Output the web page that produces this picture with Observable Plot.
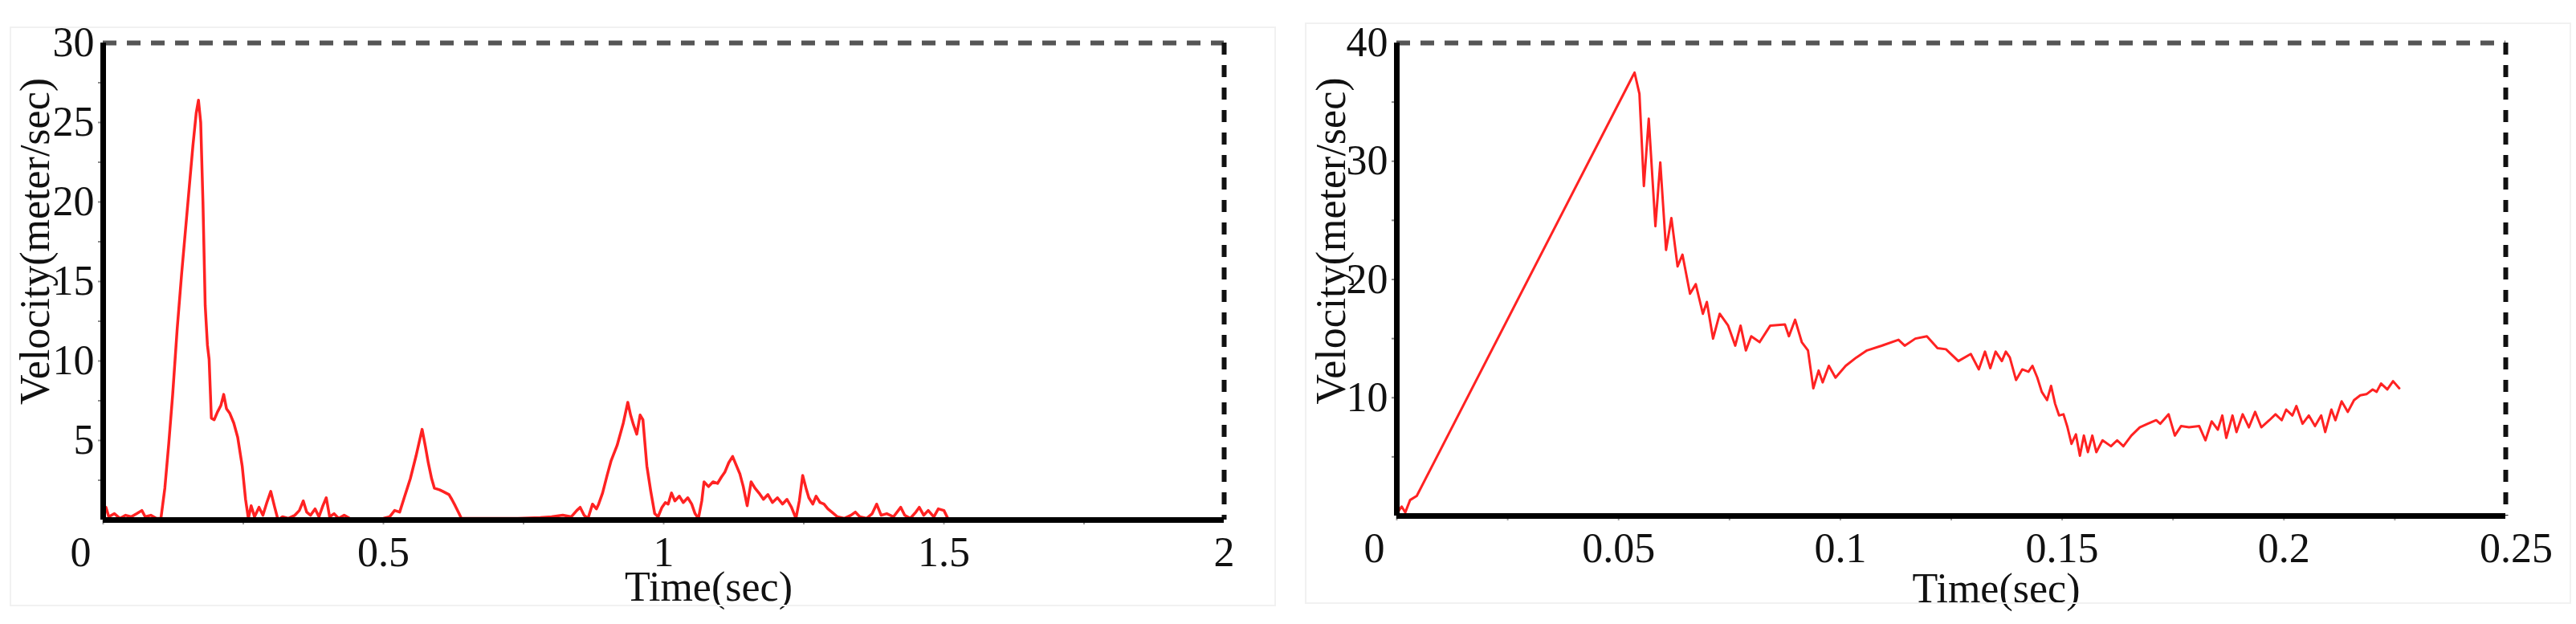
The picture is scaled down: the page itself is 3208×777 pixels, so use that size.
<!DOCTYPE html>
<html>
<head>
<meta charset="utf-8">
<script src="https://cdn.jsdelivr.net/npm/d3@7"></script>
<script src="https://cdn.jsdelivr.net/npm/@observablehq/plot@0.6"></script>
<style>
  html, body { margin: 0; padding: 0; background: #fff; }
  #wrap { position: relative; width: 3208px; height: 777px; display: flex; flex-direction: row; }
  .panel { width: 1604px; height: 777px; }
  .frame { position: absolute; border: 2px solid #f1f1f1; pointer-events: none; }
</style>
</head>
<body>
<div id="wrap">
  <div class="frame" style="left:12px; top:33px; width:1573px; height:718px;"></div>
  <div class="frame" style="left:1625px; top:28px; width:1573px; height:720px;"></div>
  <div class="panel" id="left"></div>
  <div class="panel" id="right"></div>
</div>
<script>
// ---------- Left chart: velocity over 0–2 s ----------
const leftTime = [
  0.000, 0.005, 0.010, 0.020, 0.030, 0.040, 0.050, 0.060, 0.069, 0.075, 0.085, 0.095, 0.103,
  0.110, 0.117, 0.124, 0.132, 0.140, 0.150, 0.160, 0.166, 0.170, 0.174, 0.178, 0.182, 0.186,
  0.189, 0.193, 0.198, 0.204, 0.210, 0.215, 0.220, 0.226, 0.233, 0.240, 0.248, 0.254, 0.259,
  0.264, 0.270, 0.278, 0.285, 0.292, 0.299, 0.306, 0.312, 0.320, 0.330, 0.342, 0.350, 0.357,
  0.363, 0.370, 0.378, 0.385, 0.392, 0.398, 0.404, 0.412, 0.420, 0.430, 0.440, 0.460, 0.480,
  0.500, 0.511, 0.520, 0.529, 0.538, 0.548, 0.558, 0.569, 0.575, 0.580, 0.586, 0.591, 0.600,
  0.606, 0.617, 0.622, 0.628, 0.635, 0.639, 0.660, 0.700, 0.740, 0.780, 0.800, 0.820, 0.835,
  0.845, 0.851, 0.858, 0.865, 0.873, 0.880, 0.884, 0.891, 0.899, 0.906, 0.917, 0.928, 0.936,
  0.941, 0.946, 0.952, 0.958, 0.963, 0.970, 0.977, 0.984, 0.990, 0.997, 1.003, 1.008, 1.014,
  1.020, 1.028, 1.035, 1.043, 1.050, 1.056, 1.062, 1.068, 1.072, 1.080, 1.088, 1.096, 1.103,
  1.109, 1.116, 1.123, 1.130, 1.136, 1.142, 1.149, 1.156, 1.163, 1.170, 1.178, 1.186, 1.194,
  1.203, 1.212, 1.220, 1.228, 1.236, 1.242, 1.248, 1.254, 1.259, 1.266, 1.272, 1.279, 1.286,
  1.293, 1.300, 1.310, 1.322, 1.334, 1.342, 1.350, 1.362, 1.372, 1.380, 1.388, 1.398, 1.410,
  1.423, 1.430, 1.440, 1.450, 1.456, 1.464, 1.472, 1.482, 1.490, 1.500, 1.507
];
const leftVelocity = [
  0.2, 0.8, 0.2, 0.4, 0.1, 0.3, 0.2, 0.4, 0.6, 0.2, 0.3, 0.1, 0.1,
  2.0, 4.8, 7.9, 12.0, 15.5, 19.5, 23.5, 25.6, 26.4, 25.0, 20.0, 13.5, 11.0,
  10.1, 6.4, 6.3, 6.8, 7.2, 7.9, 7.0, 6.7, 6.1, 5.2, 3.4, 1.3, 0.1,
  0.9, 0.2, 0.8, 0.3, 1.1, 1.8, 0.8, 0.0, 0.2, 0.1, 0.3, 0.6, 1.2,
  0.5, 0.3, 0.7, 0.2, 0.9, 1.4, 0.2, 0.4, 0.1, 0.3, 0.1, 0.05, 0.05,
  0.1, 0.2, 0.6, 0.5, 1.5, 2.6, 4.0, 5.7, 4.6, 3.6, 2.6, 2.0, 1.9,
  1.8, 1.6, 1.3, 0.9, 0.4, 0.1, 0.1, 0.1, 0.1, 0.15, 0.2, 0.3, 0.2,
  0.6, 0.8, 0.3, 0.1, 1.0, 0.7, 1.0, 1.7, 2.8, 3.7, 4.7, 6.1, 7.4,
  6.6, 6.0, 5.4, 6.6, 6.3, 3.4, 1.8, 0.4, 0.2, 0.8, 1.1, 1.0, 1.7,
  1.2, 1.5, 1.1, 1.4, 1.0, 0.4, 0.1, 1.2, 2.4, 2.1, 2.4, 2.3, 2.7,
  3.0, 3.6, 4.0, 3.4, 2.9, 2.1, 0.9, 2.4, 2.0, 1.7, 1.3, 1.6, 1.1,
  1.4, 1.0, 1.3, 0.8, 0.1, 1.2, 2.8, 2.0, 1.4, 1.0, 1.5, 1.1, 1.0,
  0.7, 0.5, 0.2, 0.1, 0.3, 0.5, 0.2, 0.1, 0.4, 1.0, 0.3, 0.4, 0.2,
  0.8, 0.3, 0.1, 0.5, 0.8, 0.3, 0.6, 0.2, 0.7, 0.6, 0.1
];
const leftXTicks = [0.5, 1, 1.5, 2];
const leftXZeroTick = [0];
const leftYTicks = [5, 10, 15, 20, 25, 30];
const leftYMinor = [2.5, 5, 7.5, 10, 12.5, 15, 17.5, 20, 22.5, 25, 27.5];
const leftXMinor = [0, 0.25, 0.5, 0.75, 1, 1.25, 1.5, 1.75];

// ---------- Right chart: velocity over 0–0.25 s ----------
const rightTime = [
  0.0000, 0.0011, 0.0019, 0.0030, 0.0045, 0.0536, 0.0547, 0.0557, 0.0568, 0.0583, 0.0594,
  0.0607, 0.0619, 0.0633, 0.0644, 0.0661, 0.0674, 0.0690, 0.0699, 0.0713, 0.0728, 0.0747,
  0.0763, 0.0775, 0.0787, 0.0799, 0.0818, 0.0842, 0.0875, 0.0884, 0.0898, 0.0913, 0.0927,
  0.0939, 0.0951, 0.0960, 0.0974, 0.0989, 0.1012, 0.1036, 0.1060, 0.1093, 0.1131, 0.1145,
  0.1169, 0.1195, 0.1219, 0.1238, 0.1266, 0.1294, 0.1312, 0.1326, 0.1338, 0.1350, 0.1364,
  0.1373, 0.1382, 0.1396, 0.1410, 0.1424, 0.1433, 0.1444, 0.1454, 0.1466, 0.1475, 0.1484,
  0.1493, 0.1503, 0.1512, 0.1521, 0.1531, 0.1540, 0.1549, 0.1558, 0.1568, 0.1577, 0.1591,
  0.1610, 0.1624, 0.1638, 0.1656, 0.1675, 0.1693, 0.1712, 0.1721, 0.1740, 0.1754, 0.1768,
  0.1786, 0.1809, 0.1823, 0.1837, 0.1851, 0.1861, 0.1870, 0.1884, 0.1893, 0.1907, 0.1921,
  0.1935, 0.1949, 0.1967, 0.1981, 0.1995, 0.2005, 0.2019, 0.2028, 0.2042, 0.2056, 0.2070,
  0.2084, 0.2093, 0.2107, 0.2116, 0.2130, 0.2144, 0.2158, 0.2172, 0.2186, 0.2200, 0.2209,
  0.2219, 0.2233, 0.2246, 0.2260
];
const rightVelocity = [
  0.2, 0.8, 0.3, 1.35, 1.7, 37.5, 35.7, 27.9, 33.6, 24.5, 29.9,
  22.5, 25.2, 21.1, 22.1, 18.8, 19.6, 17.1, 18.1, 15.0, 17.1, 16.1,
  14.4, 16.1, 14.0, 15.2, 14.7, 16.1, 16.2, 15.2, 16.6, 14.7, 14.0,
  10.8, 12.3, 11.3, 12.7, 11.7, 12.7, 13.4, 14.0, 14.4, 14.9, 14.4,
  15.0, 15.2, 14.2, 14.1, 13.1, 13.7, 12.4, 13.9, 12.5, 13.9, 13.1,
  13.9, 13.4, 11.5, 12.4, 12.2, 12.7, 11.7, 10.5, 9.8, 11.0, 9.5,
  8.5, 8.6, 7.5, 6.1, 6.9, 5.1, 6.8, 5.4, 6.8, 5.4, 6.4,
  5.9, 6.4, 5.9, 6.8, 7.5, 7.8, 8.1, 7.8, 8.6, 6.8, 7.6,
  7.5, 7.6, 6.4, 8.0, 7.3, 8.5, 6.6, 8.5, 7.1, 8.6, 7.5,
  8.8, 7.5, 8.1, 8.6, 8.1, 9.0, 8.5, 9.3, 7.8, 8.5, 7.6,
  8.5, 7.1, 9.0, 8.1, 9.7, 8.8, 9.8, 10.2, 10.3, 10.7, 10.5,
  11.2, 10.7, 11.4, 10.8
];
const rightXTicks = [0.05, 0.1, 0.15, 0.2];
const rightXLastTick = [0.25];
const rightXZeroTick = [0];
const rightYTicks = [10, 20, 30, 40];
const rightYMinor = [5, 10, 15, 20, 25, 30, 35];
const rightXMinor = [0, 0.025, 0.05, 0.075, 0.1, 0.125, 0.15, 0.175, 0.2, 0.225];

const yTitle = "Velocity(meter/sec)";
const xTitle = "Time(sec)";

const FONT = "'Liberation Serif', 'Times New Roman', Times, serif";
const RED = "#ff2222";
const fmt = d => String(d);

function makeChart(cfg) {
  const data = cfg.time.map((t, i) => ({t, v: cfg.velocity[i]}));
  return Plot.plot({
    width: 1604,
    height: 777,
    marginLeft: cfg.ml,
    marginRight: cfg.mr,
    marginTop: 53,
    marginBottom: cfg.mb,
    style: {fontFamily: FONT, fontSize: "52px", color: "#111", background: "transparent", overflow: "visible"},
    x: {domain: cfg.xDomain},
    y: {domain: cfg.yDomain},
    marks: [
      // minor ticks
      Plot.axisY({ticks: cfg.yMinor, tickSize: 6, tickFormat: () => "", stroke: "#888", strokeWidth: 2, label: null}),
      Plot.axisX({ticks: cfg.xMinor, tickSize: 6, tickFormat: () => "", stroke: "#999", strokeWidth: 2, label: null}),
      // top & right dashed borders
      Plot.ruleY([cfg.yDomain[1]], {stroke: "#555", strokeWidth: 6, strokeDasharray: "17,13"}),
      Plot.ruleX([cfg.xDomain[1]], {stroke: "#111", strokeWidth: 6, strokeDasharray: "15,13"}),
      // data
      Plot.line(data, {x: "t", y: "v", stroke: RED, strokeWidth: cfg.sw, strokeLinejoin: "round"}),
      // axis lines
      Plot.ruleY([0], {stroke: "#000", strokeWidth: 7}),
      Plot.ruleX([0], {stroke: "#000", strokeWidth: 7}),
      // tick labels
      Plot.axisY({ticks: cfg.yTicks, tickSize: 0, tickPadding: 11, label: null, tickFormat: fmt}),
      Plot.axisX({ticks: cfg.xTicks, tickSize: 0, tickPadding: 21, label: null, tickFormat: fmt}),
      Plot.axisX({ticks: cfg.xZero, tickSize: 0, tickPadding: 21, dx: -28, label: null, tickFormat: fmt}),
      ...(cfg.xLast ? [Plot.axisX({ticks: cfg.xLast, tickSize: 0, tickPadding: 21, dx: 13, label: null, tickFormat: fmt})] : []),
      // titles
      Plot.text([yTitle], {text: d => d, frameAnchor: "left", rotate: -90, dx: cfg.ytDx, dy: cfg.ytDy,
        fontSize: 52, textAnchor: "middle", lineAnchor: "middle", fill: "#111"}),
      Plot.text([xTitle], {text: d => d, frameAnchor: "bottom", dx: 56, dy: cfg.xtDy,
        fontSize: 52, textAnchor: "middle", lineAnchor: "middle", fill: "#111"})
    ]
  });
}

document.getElementById("left").append(makeChart({
  time: leftTime, velocity: leftVelocity,
  ml: 128, mr: 80, mb: 130,
  xDomain: [0, 2], yDomain: [0, 30],
  xTicks: leftXTicks, xZero: leftXZeroTick, xLast: null,
  yTicks: leftYTicks, yMinor: leftYMinor, xMinor: leftXMinor,
  sw: 3.5, ytDx: -84, ytDy: -50, xtDy: 84
}));

document.getElementById("right").append(makeChart({
  time: rightTime, velocity: rightVelocity,
  ml: 135, mr: 88, mb: 135,
  xDomain: [0, 0.25], yDomain: [0, 40],
  xTicks: rightXTicks, xZero: rightXZeroTick, xLast: rightXLastTick,
  yTicks: rightYTicks, yMinor: rightYMinor, xMinor: rightXMinor,
  sw: 3, ytDx: -81, ytDy: -48, xtDy: 91
}));
</script>
</body>
</html>
